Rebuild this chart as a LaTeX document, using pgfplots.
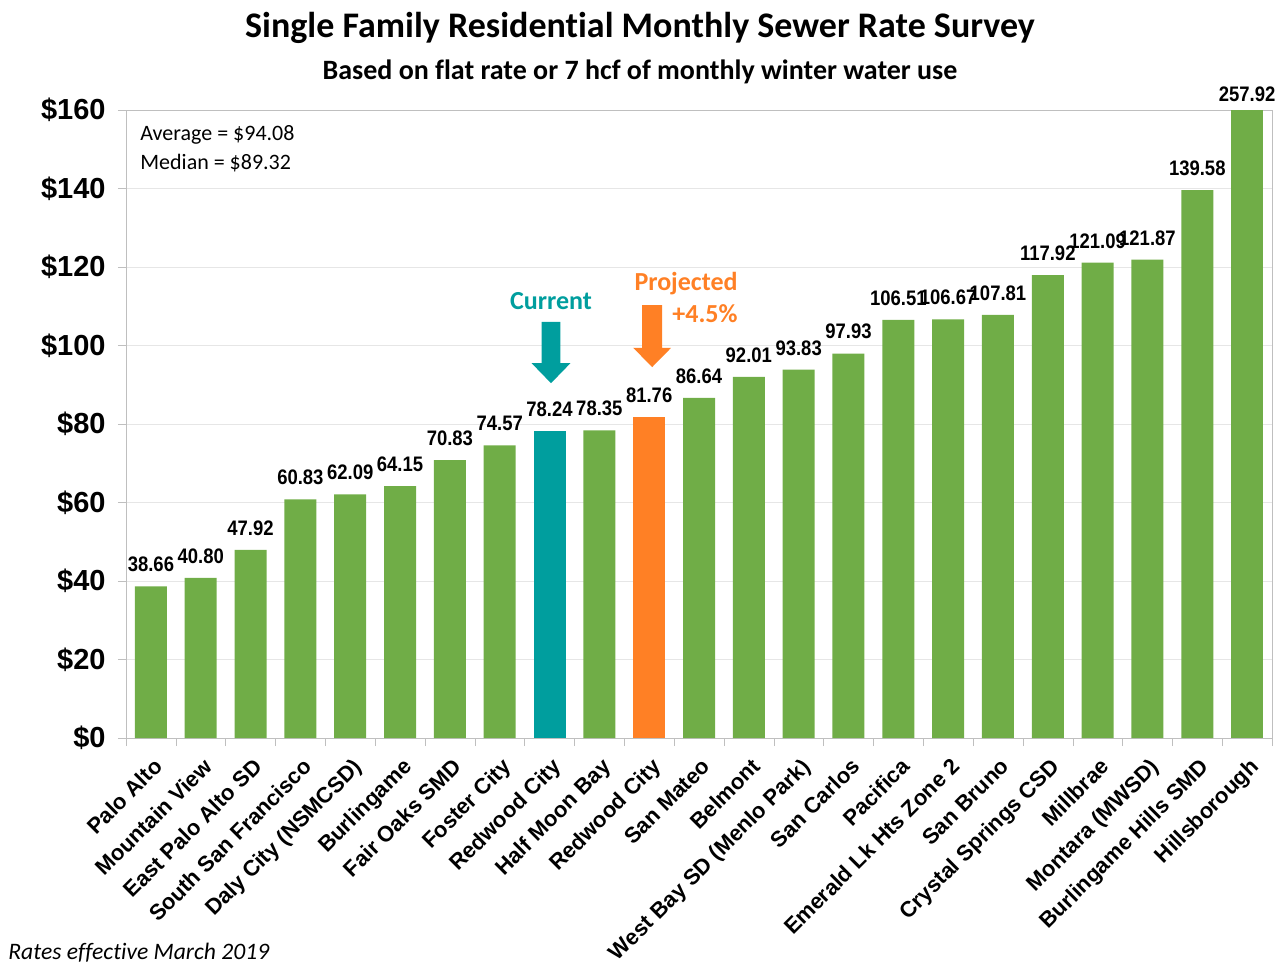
\documentclass[border=0pt]{standalone}
\usepackage{pgfplots}
\pgfplotsset{compat=1.18}
\usepackage{pgfplotstable}
\usepackage{fontspec}
\setmainfont{Carlito}[Ligatures={NoCommon}]
\newfontfamily\arialfont{Liberation Sans}
\newfontfamily\valfont[FakeStretch=0.88]{Liberation Sans}
\definecolor{bargreen}{HTML}{70AD47}
\definecolor{barteal}{HTML}{009E9E}
\definecolor{barorange}{HTML}{FF8025}
\definecolor{gridgray}{HTML}{E6E6E6}
\definecolor{axisgray}{HTML}{BFBFBF}

\pgfplotstableread{
x y
0 38.66
1 40.80
2 47.92
3 60.83
4 62.09
5 64.15
6 70.83
7 74.57
9 78.35
11 86.64
12 92.01
13 93.83
14 97.93
15 106.51
16 106.67
17 107.81
18 117.92
19 121.09
20 121.87
21 139.58
}\greendata

\begin{document}
\begin{tikzpicture}
\useasboundingbox (-63pt,-116.5pt) rectangle (576pt,369pt);
\begin{axis}[
  at={(0,0)}, anchor=south west,
  scale only axis, width=573pt, height=314pt,
  xmin=-0.5, xmax=22.5, ymin=0, ymax=160,
  clip mode=individual,
  ytick={0,20,...,160},
  yticklabels={\$0,\$20,\$40,\$60,\$80,\$100,\$120,\$140,\$160},
  yticklabel style={font=\arialfont\bfseries\fontsize{14.5}{14.5}\selectfont, inner sep=6pt},
  xtick={0,...,22},
  xticklabels={Palo Alto, Mountain View, East Palo Alto SD, South San Francisco, Daly City (NSMCSD), Burlingame, Fair Oaks SMD, Foster City, Redwood City, Half Moon Bay, Redwood City, San Mateo, Belmont, West Bay SD (Menlo Park), San Carlos, Pacifica, Emerald Lk Hts Zone 2, San Bruno, Crystal Springs CSD, Millbrae, Montara (MWSD), Burlingame Hills SMD, Hillsborough},
  xticklabel style={font=\arialfont\bfseries\fontsize{11}{11}\selectfont, rotate=45, anchor=north east, inner sep=1pt, xshift=1pt},
  xticklabel shift=4.5pt,
  minor xtick={-0.5,0.5,...,22.5},
  xtick pos=bottom, ytick pos=left,
  tick align=outside,
  major x tick style={draw=none},
  minor x tick style={axisgray},
  y tick style={axisgray},
  major tick length=4pt, minor tick length=4pt,
  ymajorgrids, grid style={gridgray},
  axis line style={axisgray},
  ybar, bar width=16pt,
  nodes near coords={\pgfmathprintnumber[fixed,fixed zerofill,precision=2,assume math mode=true]{\pgfplotspointmeta}},
  every node near coord/.append style={font=\valfont\bfseries\fontsize{10.5}{10.5}\selectfont, inner sep=0pt, anchor=south, yshift=7pt, text=black},
]
\addplot[fill=bargreen, draw=none, bar shift=0pt] table[x=x,y=y]{\greendata};
\addplot[fill=barteal, draw=none, bar shift=0pt] coordinates {(8,78.24)};
\addplot[fill=barorange, draw=none, bar shift=0pt] coordinates {(10,81.76)};
\addplot[fill=bargreen, draw=none, bar shift=0pt, nodes near coords={}] coordinates {(22,257.92)};
\node[font=\valfont\bfseries\fontsize{10.5}{10.5}\selectfont, anchor=south, inner sep=0pt, yshift=4pt] at (axis cs:22,160) {257.92};
\fill[barteal] (axis cs:7.84,106) -- (axis cs:8.22,106) -- (axis cs:8.22,95.5) -- (axis cs:8.42,95.5) -- (axis cs:8.03,90.4) -- (axis cs:7.64,95.5) -- (axis cs:7.84,95.5) -- cycle;
\fill[barorange] (axis cs:9.86,110.3) -- (axis cs:10.26,110.3) -- (axis cs:10.26,99.4) -- (axis cs:10.44,99.4) -- (axis cs:10.06,94.5) -- (axis cs:9.68,99.4) -- (axis cs:9.86,99.4) -- cycle;
\node[font=\bfseries\fontsize{13}{13}\selectfont, text=barteal] at (axis cs:8.03,111.3) {Current};
\node[font=\bfseries\fontsize{13}{13}\selectfont, text=barorange] at (axis cs:10.74,115.9) {Projected};
\node[font=\bfseries\fontsize{13}{13}\selectfont, text=barorange] at (axis cs:11.12,108.0) {+4.5\%};
\end{axis}
\node[font=\bfseries\fontsize{18}{18}\selectfont] at (257pt,355pt) {Single Family Residential Monthly Sewer Rate Survey};
\node[font=\bfseries\fontsize{14}{14}\selectfont] at (257pt,333pt) {Based on flat rate or 7 hcf of monthly winter water use};
\node[font=\fontsize{11}{11}\selectfont, anchor=west, inner sep=0pt] at (7pt,301.5pt) {Average = \$94.08};
\node[font=\fontsize{11}{11}\selectfont, anchor=west, inner sep=0pt] at (7pt,287.5pt) {Median = \$89.32};
\node[font=\itshape\fontsize{11.8}{11.8}\selectfont, anchor=west, inner sep=0pt] at (-59pt,-107.5pt) {Rates effective March 2019};
\end{tikzpicture}
\end{document}
